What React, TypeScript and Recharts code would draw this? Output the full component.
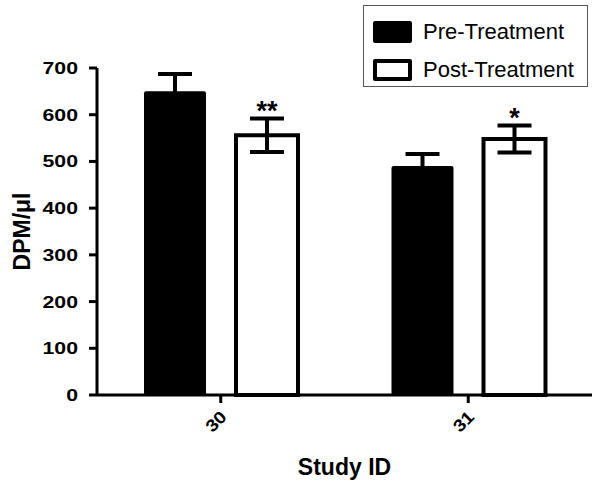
import { BarChart, Bar, XAxis, YAxis, ErrorBar, LabelList } from 'recharts'

const studyIds = ['30', '31']
const preValues = [650, 490]
const preErrors = [37, 26]
const postValues = [556, 548]
const postErrors = [36, 29]
const postStars = ['**', '*']
const yTicks = [0, 100, 200, 300, 400, 500, 600, 700]
const seriesNames = ['Pre-Treatment', 'Post-Treatment']

const data = studyIds.map((id, i) => ({
  id,
  pre: preValues[i],
  preErr: preErrors[i],
  post: postValues[i],
  postErr: postErrors[i],
  star: postStars[i],
}))

const font = '"Liberation Sans", Arial, sans-serif'

const XTick = ({ x, y, payload }: any) => (
  <text
    transform={`translate(${x + 7},${y + 13}) rotate(-45) scale(1.15,1)`}
    textAnchor="end"
    fontFamily={font}
    fontWeight="bold"
    fontSize={17}
    fill="#000"
  >
    {payload.value}
  </text>
)

const YTick = ({ x, y, payload }: any) => (
  <text
    transform={`translate(${x - 9},${y + 6}) scale(1.25,1)`}
    textAnchor="end"
    fontFamily={font}
    fontWeight="bold"
    fontSize={17}
    fill="#000"
  >
    {payload.value}
  </text>
)

const StarLabel = (props: any) => {
  const { x, y, width, height, index } = props
  const d = data[index]
  const errTop = y - (d.postErr * height) / d.post
  return (
    <text
      x={x + width / 2}
      y={errTop + 2}
      textAnchor="middle"
      fontFamily={font}
      fontWeight="bold"
      fontSize={27}
      fill="#000"
    >
      {d.star}
    </text>
  )
}

const LegendBox = () => (
  <div
    style={{
      position: 'absolute',
      left: 363,
      top: 5,
      border: '1px solid #555',
      width: 225,
      height: 82,
      boxSizing: 'border-box',
      fontFamily: font,
      fontSize: 22,
      color: '#000',
      background: '#fff',
    }}
  >
    {seriesNames.map((name, i) => (
      <div
        key={name}
        style={{ display: 'flex', alignItems: 'center', position: 'absolute', left: 9, top: i === 0 ? 13 : 51 }}
      >
        <div
          style={{
            width: 39,
            height: 22,
            boxSizing: 'border-box',
            background: i === 0 ? '#000' : '#fff',
            border: '4px solid #000',
            borderRadius: 2,
          }}
        />
        <span style={{ marginLeft: 11 }}>{name}</span>
      </div>
    ))}
  </div>
)

export default function App() {
  return (
    <div style={{ position: 'relative', width: 601, height: 487, background: '#fff' }}>
      <style>{'body{margin:0}'}</style>
      <BarChart
        width={601}
        height={487}
        data={data}
        margin={{ top: 68, right: 9, bottom: 0, left: 0 }}
        barSize={62}
        barGap={30}
      >
        <XAxis
          dataKey="id"
          height={92}
          stroke="#000"
          strokeWidth={3}
          tickSize={8}
          tick={<XTick />}
          label={{
            value: 'Study ID',
            position: 'insideBottom',
            offset: 12,
            style: { fontFamily: font, fontWeight: 'bold', fontSize: 23, fill: '#000' },
          }}
        />
        <YAxis
          width={97}
          domain={[0, 700]}
          ticks={yTicks}
          stroke="#000"
          strokeWidth={3}
          tickSize={8}
          tick={<YTick />}
          label={{
            value: 'DPM/μl',
            angle: -90,
            position: 'insideLeft',
            offset: 22,
            style: { fontFamily: font, fontWeight: 'bold', fontSize: 23, fill: '#000', textAnchor: 'middle' },
          }}
        />
        <Bar dataKey="pre" fill="#000" radius={2} isAnimationActive={false}>
          <ErrorBar dataKey="preErr" width={17} stroke="#000" strokeWidth={4} isAnimationActive={false} />
        </Bar>
        <Bar dataKey="post" fill="#fff" stroke="#000" strokeWidth={4} isAnimationActive={false}>
          <ErrorBar dataKey="postErr" width={17} stroke="#000" strokeWidth={4} isAnimationActive={false} />
          <LabelList dataKey="star" content={<StarLabel />} />
        </Bar>
      </BarChart>
      <LegendBox />
    </div>
  )
}
